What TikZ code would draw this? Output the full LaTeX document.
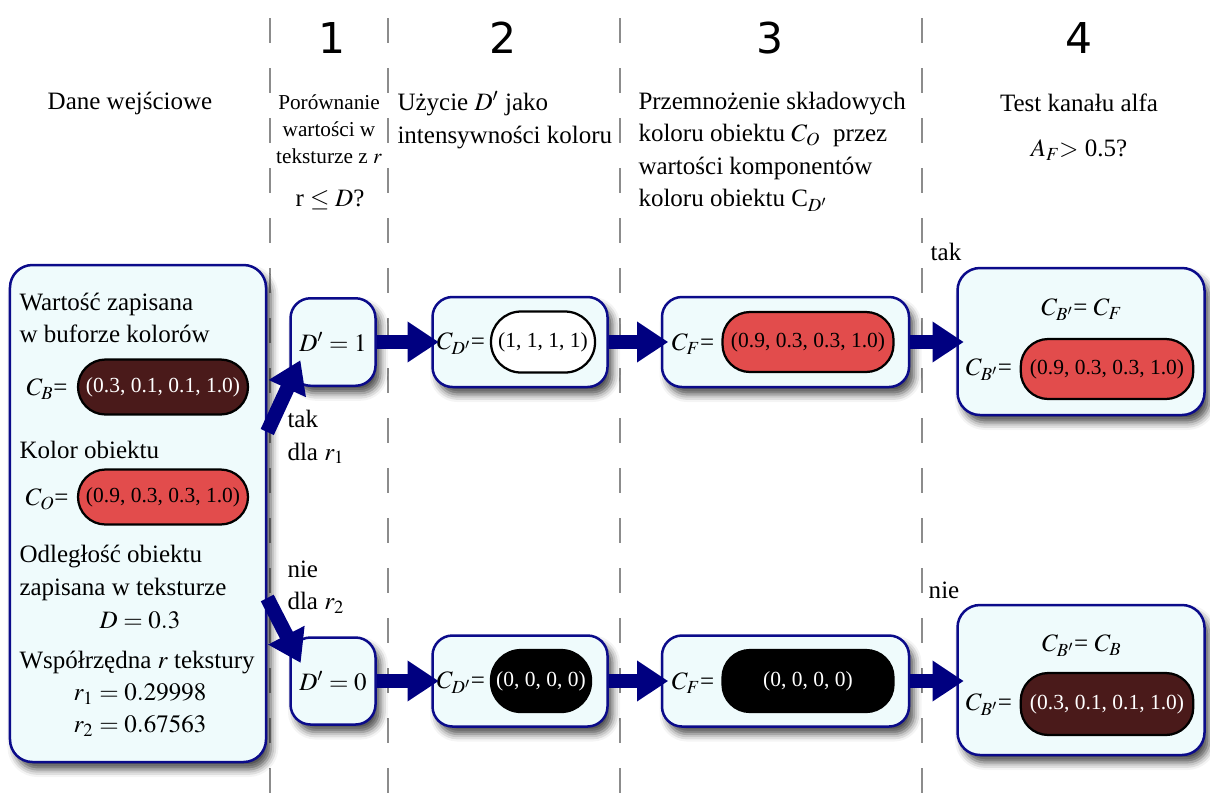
\documentclass[tikz,border=0pt]{standalone}
\usepackage{mathptmx}
\usepackage[no-math]{fontspec}
\setmainfont{Liberation Serif}
\newfontfamily\cyfry{DejaVu Sans}
\usetikzlibrary{arrows.meta,shadows.blur}

\definecolor{obrys}{HTML}{0B0B8A}
\definecolor{tlo}{HTML}{EFFBFC}
\definecolor{strzalka}{HTML}{000080}
\definecolor{czerwony}{HTML}{E24C4C}
\definecolor{bordowy}{HTML}{4A1A1A}
\definecolor{kreska}{HTML}{8C8C8C}

% zapis "C_X=" z ciasnym znakiem rownosci
\newcommand{\przyp}[1]{$#1$\kern-0.3pt=}

\tikzset{
  krok/.style={draw=obrys, line width=1pt, fill=tlo, rounded corners=8pt, inner sep=0pt,
    blur shadow={shadow xshift=2pt, shadow yshift=-3pt, shadow blur radius=3pt, shadow opacity=70}},
  pigulka/.style={draw=black, line width=0.9pt, rounded corners=11pt, inner sep=0pt,
    font=\fontsize{8.6}{10}\selectfont},
  jasna/.style={pigulka, fill=white, text=black},
  czerwona/.style={pigulka, fill=czerwony, text=black},
  ciemna/.style={pigulka, fill=bordowy, text=white},
  czarna/.style={pigulka, fill=black, text=white},
  strzal/.style={draw=strzalka, line width=5.8pt, shorten >=-3pt,
    -{Triangle[width=15.5pt, length=12.5pt]}},
  podzial/.style={draw=kreska, line width=0.8pt, dash pattern=on 10pt off 10pt, dash phase=12.8pt},
  opis/.style={font=\fontsize{10}{13}\selectfont, inner sep=0pt},
  maly/.style={font=\fontsize{8.5}{10.8}\selectfont, inner sep=0pt},
  numer/.style={font=\cyfry\fontsize{17}{20}\selectfont, inner sep=0pt}
}

\begin{document}
\begin{tikzpicture}[x=0.4pt, y=-0.4pt]
    \useasboundingbox (0,0) rectangle (1210,808);

    % Linie podzialu na etapy
    \foreach \x in {270,388,620,922}
        \draw[podzial] (\x,0) -- (\x,808);

    % Numery etapow
    \node[numer] (n1) at (332,38) {1};
    \node[numer] (n2) at (503,38) {2};
    \node[numer] (n3) at (770,38) {3};
    \node[numer] (n4) at (1079,38) {4};

    % Naglowki kolumn
    \node[opis] (t0) at (130,103) {Dane wejściowe};
    \node[maly, align=center] (t1) at (329,129) {Porównanie\\wartości w\\teksturze z $r$};
    \node[opis] (q1) at (330,200) {r $\leq D$?};
    \node[opis, align=left, anchor=west] (t2) at (397,120) {Użycie $D'$ jako\\intensywności koloru};
    \node[opis, align=left, anchor=west] (t3) at (638,152) {Przemnożenie składowych\\koloru obiektu $C_O$\ \ przez\\wartości komponentów\\koloru obiektu C$_{D'}$};
    \node[opis] (t4) at (1079,103) {Test kanału alfa};
    \node[opis] (q4) at (1079,150) {$A_F$\kern-0.5pt$>$ 0.5?};

    % Dane wejsciowe
    \node[krok, rounded corners=9pt, minimum width=102.4pt, minimum height=198.8pt] (dane) at (138,513.5) {};
    \node[opis, align=left, anchor=west] (bufor) at (19,318) {Wartość zapisana\\w buforze kolorów};
    \node[opis] (cb) at (47,389) {\przyp{C_B}};
    \node[ciemna, minimum width=68pt, minimum height=22pt] (cbw) at (163,387) {(0.3, 0.1, 0.1, 1.0)};
    \node[opis, anchor=west] (kolor) at (19,450) {Kolor obiektu};
    \node[opis] (co) at (47,499) {\przyp{C_O}};
    \node[czerwona, minimum width=68pt, minimum height=22pt] (cow) at (163,497) {(0.9, 0.3, 0.3, 1.0)};
    \node[opis, align=left, anchor=west] (odl) at (19,573) {Odległość obiektu\\zapisana w teksturze};
    \node[opis] (dd) at (140,620) {$D = 0.3$};
    \node[opis, anchor=west] (wsp) at (19,662) {Współrzędna $r$ tekstury};
    \node[opis, align=center] (rr) at (140,710) {$r_1 = 0.29998$\\$r_2 = 0.67563$};

    % Gorny wiersz (r1)
    \node[krok, minimum width=34pt, minimum height=35pt] (d1) at (333,342) {$D' = 1$};
    \node[krok, minimum width=70pt, minimum height=36pt] (cd1) at (520,342) {};
    \node[opis] (cd1l) at (461,344) {\przyp{C_{D'}}};
    \node[jasna, rounded corners=12pt, minimum width=41.6pt, minimum height=24.4pt] (cd1w) at (543,342) {(1, 1, 1, 1)};
    \node[krok, minimum width=98.8pt, minimum height=36pt] (cf1) at (785.5,342) {};
    \node[opis] (cf1l) at (693,344) {\przyp{C_F}};
    \node[czerwona, minimum width=68.4pt, minimum height=24pt] (cf1w) at (808,342) {(0.9, 0.3, 0.3, 1.0)};
    \node[krok, rounded corners=9pt, minimum width=98.8pt, minimum height=58.8pt] (wyn1) at (1081,341.5) {};
    \node[opis] (wyn1t) at (1082,310) {\przyp{C_{B'}} $C_F$};
    \node[opis] (wyn1l) at (989,370) {\przyp{C_{B'}}};
    \node[czerwona, minimum width=69pt, minimum height=24pt] (wyn1w) at (1107,369) {(0.9, 0.3, 0.3, 1.0)};

    % Dolny wiersz (r2)
    \node[krok, minimum width=34pt, minimum height=34.8pt] (d0) at (333,681) {$D' = 0$};
    \node[krok, minimum width=70pt, minimum height=36.4pt] (cd0) at (520,681) {};
    \node[opis] (cd0l) at (461,683) {\przyp{C_{D'}}};
    \node[czarna, rounded corners=12pt, minimum width=40pt, minimum height=24.8pt] (cd0w) at (541,681) {(0, 0, 0, 0)};
    \node[krok, minimum width=98.8pt, minimum height=36.4pt] (cf0) at (785.5,681) {};
    \node[opis] (cf0l) at (693,683) {\przyp{C_F}};
    \node[czarna, minimum width=68.4pt, minimum height=24.8pt] (cf0w) at (808,681) {(0, 0, 0, 0)};
    \node[krok, rounded corners=9pt, minimum width=98.8pt, minimum height=60pt] (wyn0) at (1081,680) {};
    \node[opis] (wyn0t) at (1082,646) {\przyp{C_{B'}} $C_B$};
    \node[opis] (wyn0l) at (989,705) {\przyp{C_{B'}}};
    \node[ciemna, minimum width=69pt, minimum height=24.8pt] (wyn0w) at (1107,704) {(0.3, 0.1, 0.1, 1.0)};

    % Strzalki
    \draw[strzal] (dane.east |- 0,432) -- ([shift={(8,-20)}]d1.south west);
    \draw[strzal] (dane.east |- 0,598) -- ([shift={(8,20)}]d0.north west);
    \draw[strzal] (d1) -- (cd1);
    \draw[strzal] (cd1) -- (cf1);
    \draw[strzal] (cf1) -- (wyn1.west |- cf1);
    \draw[strzal] (d0) -- (cd0);
    \draw[strzal] (cd0) -- (cf0);
    \draw[strzal] (cf0) -- (wyn0.west |- cf0);

    % Etykiety galezi
    \node[opis, align=left, anchor=west] (tak1) at (287,437) {tak\\dla $r_1$};
    \node[opis, align=left, anchor=west] (nie1) at (287,587) {nie\\dla $r_2$};
    \node[opis] (tak4) at (946,252) {tak};
    \node[opis] (nie4) at (944,590) {nie};
\end{tikzpicture}
\end{document}
